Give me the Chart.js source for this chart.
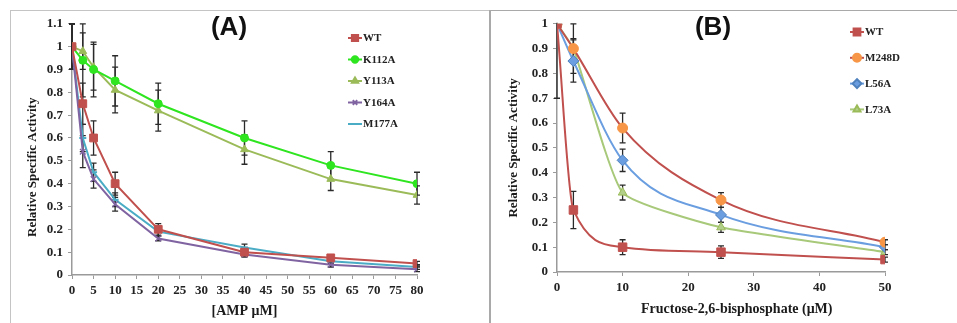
<!DOCTYPE html>
<html>
<head>
<meta charset="utf-8">
<script src="https://cdn.jsdelivr.net/npm/chart.js@4"></script>
<style>
    html, body { margin: 0; padding: 0; background: #fff; }
    body { width: 957px; height: 323px; position: relative; overflow: hidden; }
    .panel { position: absolute; top: 10px; }
    #panelA { left: 10px; border-top: 1px solid #c4c4c4; border-left: 1px solid #c4c4c4; }
    #panelB { left: 489px; border-top: 1px solid #a9a9a9; border-left: 2px solid #a9a9a9; }
    canvas { display: block; }
</style>
</head>
<body>
<div class="panel" id="panelA"><canvas id="chartA" width="478" height="312"></canvas></div>
<div class="panel" id="panelB"><canvas id="chartB" width="466" height="312"></canvas></div>
<script>
// Panel A: AMP concentration (uM)
const doseA = [0, 2.5, 5, 10, 20, 40, 60, 80];
const wtA = [1, 0.75, 0.6, 0.4, 0.2, 0.1, 0.075, 0.05];
const wtAErr = [0.1, 0.09, 0.075, 0.05, 0.025, 0.02, 0.01, 0.01];
const k112a = [1, 0.94, 0.9, 0.85, 0.75, 0.6, 0.48, 0.4];
const k112aErr = [0.1, 0.16, 0.12, 0.11, 0.09, 0.075, 0.06, 0.05];
const y113a = [1, 0.98, 0.91, 0.81, 0.72, 0.55, 0.42, 0.35];
const y113aErr = [0.1, 0.08, 0.1, 0.1, 0.09, 0.065, 0.05, 0.04];
const y164a = [1, 0.54, 0.42, 0.31, 0.16, 0.09, 0.045, 0.025];
const y164aErr = [0.1, 0.07, 0.04, 0.03, 0.01, 0.01, 0.01, 0.01];
const m177a = [1, 0.6, 0.45, 0.33, 0.19, 0.12, 0.06, 0.035];
const m177aErr = [0.1, 0.06, 0.04, 0.03, 0.02, 0.015, 0.01, 0.01];

// Panel B: fructose-2,6-bisphosphate (uM)
const doseB = [0, 2.5, 10, 25, 50];
const wtB = [1, 0.25, 0.1, 0.08, 0.05];
const wtBErr = [0.3, 0.075, 0.03, 0.025, 0.01];
const m248d = [1, 0.9, 0.58, 0.29, 0.12];
const m248dErr = [0, 0.1, 0.06, 0.03, 0.01];
const l56a = [1, 0.85, 0.45, 0.23, 0.1];
const l56aErr = [0, 0.085, 0.045, 0.03, 0.01];
const l73a = [1, 0.9, 0.32, 0.18, 0.08];
const l73aErr = [0, 0.04, 0.03, 0.02, 0.01];

Chart.defaults.font.family = '"Liberation Serif", "Times New Roman", serif';
Chart.defaults.color = "#222";

function series(label, xs, ys, errs, style) {
    return {
        label: label,
        data: xs.map((x, i) => ({ x: x, y: ys[i] })),
        errorBars: errs,
        borderWidth: 2,
        pointBorderWidth: 1,
        ...style,
    };
}

// error bars drawn from the scales, behind the markers
const errorBarPlugin = {
    id: "errorBars",
    beforeDatasetsDraw(chart) {
        const { ctx, chartArea, scales } = chart;
        ctx.save();
        ctx.beginPath();
        ctx.rect(chartArea.left - 5, chartArea.top - 1, chartArea.width + 10, chartArea.height + 2);
        ctx.clip();
        ctx.strokeStyle = "#2a2a2a";
        ctx.lineWidth = 1.3;
        chart.data.datasets.forEach(ds => {
            (ds.errorBars || []).forEach((e, i) => {
                if (!e) return;
                const p = ds.data[i];
                const px = scales.x.getPixelForValue(p.x);
                const top = scales.y.getPixelForValue(p.y + e);
                const bot = scales.y.getPixelForValue(p.y - e);
                ctx.beginPath();
                ctx.moveTo(px, top); ctx.lineTo(px, bot);
                ctx.moveTo(px - 3, top); ctx.lineTo(px + 3, top);
                ctx.moveTo(px - 3, bot); ctx.lineTo(px + 3, bot);
                ctx.stroke();
            });
        });
        ctx.restore();
    },
};

// panel letter and in-plot legend
const overlayPlugin = {
    id: "overlay",
    afterDraw(chart, args, opts) {
        const ctx = chart.ctx;
        ctx.save();
        ctx.fillStyle = "#111";
        ctx.textAlign = "center";
        ctx.textBaseline = "middle";
        ctx.font = 'bold 26px "Liberation Sans", Arial, sans-serif';
        ctx.fillText(opts.title, opts.titleX, opts.titleY);

        chart.data.datasets.forEach((ds, i) => {
            const y = opts.legendY + i * opts.legendGap;
            const x = opts.legendX;
            ctx.strokeStyle = ds.borderColor;
            ctx.lineWidth = 2;
            ctx.beginPath();
            ctx.moveTo(x, y); ctx.lineTo(x + 14, y);
            ctx.stroke();
            ctx.fillStyle = ds.pointBackgroundColor;
            ctx.strokeStyle = ds.pointBorderColor;
            Chart.helpers.drawPoint(ctx, {
                pointStyle: ds.pointStyle,
                radius: ds.pointRadius * 0.8,
                rotation: 0,
                borderWidth: ds.pointBorderWidth,
            }, x + 7, y);
            ctx.fillStyle = "#222";
            ctx.textAlign = "left";
            ctx.font = 'bold 11px "Liberation Serif", serif';
            ctx.fillText(ds.label, x + 15, y + 0.5);
        });
        ctx.restore();
    },
};

const tickFont = { size: 13, weight: "bold" };
const titleFont = { size: 14, weight: "bold" };
const pad = n => "\u00a0".repeat(n);

function axes(xMax, xStep, yMax, xTitle, yTitle, yWidth, xHeight, yTitlePad, xTitlePad) {
    return {
        x: {
            type: "linear",
            min: 0, max: xMax,
            ticks: { stepSize: xStep, font: tickFont, color: "#222", padding: 4, maxRotation: 0 },
            grid: { drawOnChartArea: false, tickLength: 4, color: "#9a9a9a" },
            border: { color: "#9a9a9a", width: 1.5 },
            title: { display: true, text: xTitle, font: titleFont, color: "#1a1a1a", padding: { top: 0, bottom: xTitlePad } },
            afterFit(s) { s.height = xHeight; },
        },
        y: {
            min: 0, max: yMax,
            ticks: {
                stepSize: 0.1, font: tickFont, color: "#222", padding: 5,
                callback: v => String(Number(v.toFixed(1))),
            },
            grid: { drawOnChartArea: false, tickLength: 4, color: "#9a9a9a" },
            border: { color: "#9a9a9a", width: 1.5 },
            title: { display: true, text: yTitle, font: { size: 13, weight: "bold" }, color: "#1a1a1a", padding: { top: yTitlePad, bottom: 0 } },
            afterFit(s) { s.width = yWidth; },
        },
    };
}

// Panel A chart
const chartA = new Chart(document.getElementById("chartA"), {
    type: "line",
    data: {
        datasets: [
            series("WT", doseA, wtA, wtAErr, {
                borderColor: "#c0504d", pointBackgroundColor: "#c0504d", pointBorderColor: "#c0504d",
                pointStyle: "rect", pointRadius: 5.5,
            }),
            series("K112A", doseA, k112a, k112aErr, {
                borderColor: "#2ee51f", pointBackgroundColor: "#2ee51f", pointBorderColor: "#2ee51f",
                pointStyle: "circle", pointRadius: 4,
            }),
            series("Y113A", doseA, y113a, y113aErr, {
                borderColor: "#9bbb59", pointBackgroundColor: "#9bbb59", pointBorderColor: "#9bbb59",
                pointStyle: "triangle", pointRadius: 4.5,
            }),
            series("Y164A", doseA, y164a, y164aErr, {
                borderColor: "#8064a2", pointBackgroundColor: "#8064a2", pointBorderColor: "#8064a2",
                pointStyle: "crossRot", pointRadius: 4, pointBorderWidth: 1.3,
            }),
            series("M177A", doseA, m177a, m177aErr, {
                borderColor: "#4bacc6", pointBackgroundColor: "#4bacc6", pointBorderColor: "#4bacc6",
                pointStyle: "line", pointRadius: 3.5, pointBorderWidth: 2,
            }),
        ],
    },
    options: {
        responsive: false,
        animation: false,
        layout: { padding: { left: 0, top: 12, right: 72, bottom: 0 } },
        // trailing spaces push the rotated y title down, as in the figure
        scales: axes(80, 5, 1.1, "[AMP μM]", "Relative Specific Activity" + pad(11), 61, 48, 14, 3),
        plugins: {
            legend: { display: false },
            tooltip: { enabled: false },
            overlay: { title: "(A)", titleX: 218, titleY: 17, legendX: 337, legendY: 27, legendGap: 21.5 },
        },
    },
    plugins: [errorBarPlugin, overlayPlugin],
});

// Panel B chart
const chartB = new Chart(document.getElementById("chartB"), {
    type: "line",
    data: {
        datasets: [
            series("WT", doseB, wtB, wtBErr, {
                borderColor: "#c0504d", pointBackgroundColor: "#c0504d", pointBorderColor: "#c0504d",
                pointStyle: "rect", pointRadius: 6, cubicInterpolationMode: "monotone",
            }),
            series("M248D", doseB, m248d, m248dErr, {
                borderColor: "#c0504d", pointBackgroundColor: "#f79646", pointBorderColor: "#f79646",
                pointStyle: "circle", pointRadius: 5, cubicInterpolationMode: "monotone",
            }),
            series("L56A", doseB, l56a, l56aErr, {
                borderColor: "#6a9ee0", pointBackgroundColor: "#6a9ee0", pointBorderColor: "#4f81bd",
                pointStyle: "rectRot", pointRadius: 5.5, cubicInterpolationMode: "monotone",
            }),
            series("L73A", doseB, l73a, l73aErr, {
                borderColor: "#a8c97a", pointBackgroundColor: "#b3d08a", pointBorderColor: "#9bbb59",
                pointStyle: "triangle", pointRadius: 5, tension: 0.15,
            }),
        ],
    },
    options: {
        responsive: false,
        animation: false,
        layout: { padding: { left: 0, top: 8, right: 72, bottom: 0 } },
        scales: axes(50, 10, 1, pad(9) + "Fructose-2,6-bisphosphate (μM)", "Relative Specific Activity", 66, 51, 15, 5),
        plugins: {
            legend: { display: false },
            tooltip: { enabled: false },
            overlay: { title: "(B)", titleX: 222, titleY: 17, legendX: 359, legendY: 21, legendGap: 25.8 },
        },
    },
    plugins: [errorBarPlugin, overlayPlugin],
});
</script>
</body>
</html>
